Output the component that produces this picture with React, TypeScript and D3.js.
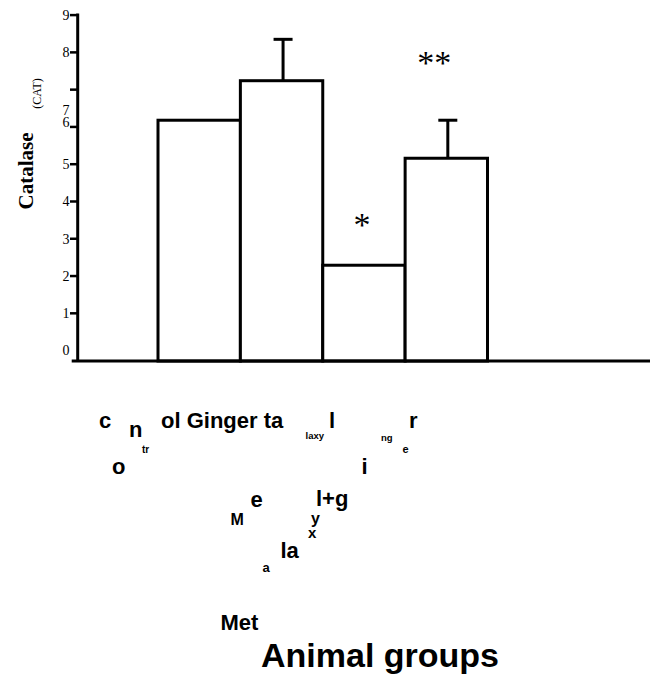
import React from "react";
import * as d3 from "d3";

// ---- data ----
const categories = ["control", "Ginger", "Metalaxyl", "Metalaxyl+ginger"];
const means = [6.18, 7.24, 2.29, 5.16];
const errTops = [null, 8.35, null, 6.18];
const significance = ["", "", "*", "**"];
const tickValues = [1, 2, 3, 4, 5, 6, 7, 8, 9];
const tickLabels = ["0", "1", "2", "3", "4", "5", "6", "7", "8", "9"];
const tickLabelValues = [0, 1, 2, 3, 4, 5, 6.13, 6.46, 8, 9];
const yTitle = "Catalase";
const yUnit = "(CAT)";
const xTitle = "Animal groups";

// scrambled category label fragments (as they appear in the original)
const xLabelPieces = [
  { t: "c", x: 99, y: 428, s: 22 },
  { t: "n", x: 129, y: 437, s: 22 },
  { t: "tr", x: 142, y: 453, s: 10 },
  { t: "o", x: 112, y: 474, s: 22 },
  { t: "ol Ginger ta", x: 161, y: 428, s: 22 },
  { t: "laxy", x: 305.5, y: 439, s: 9.5 },
  { t: "l", x: 329, y: 428, s: 22 },
  { t: "ng", x: 381, y: 441, s: 9.5 },
  { t: "e", x: 402.5, y: 453, s: 11 },
  { t: "r", x: 409, y: 428, s: 22 },
  { t: "i", x: 361.5, y: 474, s: 22 },
  { t: "e", x: 250.5, y: 506.5, s: 22 },
  { t: "l+g", x: 316, y: 506, s: 22 },
  { t: "M", x: 230.5, y: 525, s: 16 },
  { t: "y", x: 311, y: 523.5, s: 16 },
  { t: "x", x: 308, y: 538, s: 15 },
  { t: "la", x: 280.5, y: 558, s: 22 },
  { t: "a", x: 262.5, y: 571.5, s: 13 },
  { t: "Met", x: 220.5, y: 630, s: 22 },
];

export default function App() {
  const W = 660, H = 675;
  const y = d3.scaleLinear().domain([0, 9]).range([350.6, 15.1]);
  const baseY = y(-0.28);
  const x = d3.scaleBand<string>().domain(categories).range([158, 487.5]).paddingInner(0).paddingOuter(0);
  const axisX = 77.7;
  const sw = 3;
  const serif = "'Liberation Serif', 'Times New Roman', serif";
  const sans = "'Liberation Sans', Arial, sans-serif";

  return (
    <svg width={W} height={H} style={{ position: "absolute", left: 0, top: 0, background: "#fff" }}>
      {/* bars */}
      {categories.map((c, i) => (
        <rect key={c} x={x(c)!} y={y(means[i])} width={x.bandwidth()} height={baseY - y(means[i])}
          fill="#fff" stroke="#000" strokeWidth={sw} />
      ))}
      {/* error bars */}
      {categories.map((c, i) => {
        const e = errTops[i];
        if (e == null) return null;
        const cx = x(c)! + x.bandwidth() / 2 + 1.5;
        return (
          <g key={"e" + c} stroke="#000" strokeWidth={sw}>
            <line x1={cx} x2={cx} y1={y(means[i])} y2={y(e)} />
            <line x1={cx - 9.5} x2={cx + 9.5} y1={y(e)} y2={y(e)} />
          </g>
        );
      })}
      {/* significance */}
      {categories.map((c, i) => {
        const s = significance[i];
        if (!s) return null;
        const cx = x(c)! + x.bandwidth() / 2 + (s.length > 1 ? -12 : -2);
        const cy = s.length > 1 ? 60 : 222;
        return (
          <text key={"s" + c} x={cx} y={cy + 14} textAnchor="middle" fontFamily={serif} fontSize={34}>{s}</text>
        );
      })}
      {/* axes */}
      <line x1={axisX} x2={axisX} y1={y(9) - 1.5} y2={baseY} stroke="#000" strokeWidth={sw} />
      <line x1={71.7} x2={650} y1={baseY} y2={baseY} stroke="#000" strokeWidth={sw} />
      {tickValues.map((v) => (
        <line key={"t" + v} x1={70} x2={axisX} y1={y(v)} y2={y(v)} stroke="#000" strokeWidth={2.5} />
      ))}
      {tickLabels.map((t, i) => (
        <text key={"l" + i} x={69.5} y={y(tickLabelValues[i]) + 4.8} textAnchor="end" fontFamily={serif} fontSize={14}>{t}</text>
      ))}
      {/* y title */}
      <text transform="translate(33,171) rotate(-90)" textAnchor="middle" fontFamily={serif} fontWeight="bold" fontSize={21}>{yTitle}</text>
      <text transform="translate(41,93.5) rotate(-90)" textAnchor="middle" fontFamily={serif} fontSize={12}>{yUnit}</text>
      {/* x label fragments */}
      {xLabelPieces.map((p, i) => (
        <text key={"p" + i} x={p.x} y={p.y} fontFamily={sans} fontWeight="bold" fontSize={p.s}>{p.t}</text>
      ))}
      <text x={261} y={667} fontFamily={sans} fontWeight="bold" fontSize={34}>{xTitle}</text>
    </svg>
  );
}
